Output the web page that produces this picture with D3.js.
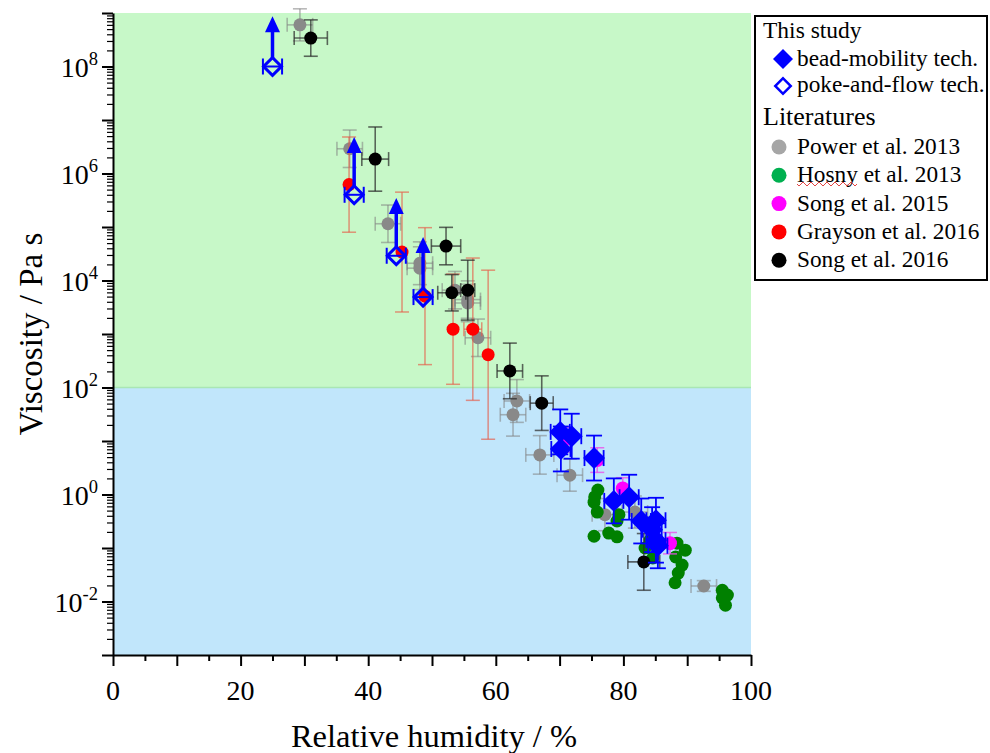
<!DOCTYPE html>
<html>
<head>
<meta charset="utf-8">
<script src="https://cdn.jsdelivr.net/npm/d3@7"></script>
<style>
  body { margin: 0; background: #fff; }
  svg { font-family: "Liberation Serif", "Times New Roman", serif; }
</style>
</head>
<body>
<svg width="990" height="753"></svg>
<script>
// ---- data ----
// Power et al. 2013
var powerRH   = [29.3, 37.1, 43.1, 48.1, 48.1, 53.6, 55.6, 55.6, 57.2, 63.3, 62.7, 66.9, 71.6, 77.1, 81.8, 92.6];
var powerVisc = [6.0e8, 2.9e6, 1.15e5, 2.1e4, 1.7e4, 6.6e3, 4.4e3, 3.8e3, 850, 56, 31, 5.5, 2.3, 0.42, 0.47, 0.0195];
var powerXErr = [2, 2, 2, 2, 2, 2, 2, 2, 2, 2, 2, 2.2, 2, 2, 2, 2];
var powerYErr = [0.3, 0.35, 0.35, 0.4, 0.4, 0.35, 0.35, 0.35, 0.35, 0.4, 0.4, 0.36, 0.3, 0.3, 0.3, 0.1]; // decades

// Hosny et al. 2013
var hosnyRH   = [76.0, 75.5, 75.4, 75.9, 75.4, 77.7, 79.0, 79.3, 79.0, 84.2, 84.6, 83.4, 88.4, 89.7, 88.2, 89.2, 88.6, 88.1, 95.5, 96.3, 95.5, 96.0];
var hosnyVisc = [1.21, 0.9, 0.72, 0.47, 0.166, 0.19, 0.162, 0.42, 0.32, 0.141, 0.065, 0.1, 0.123, 0.091, 0.068, 0.048, 0.034, 0.0224, 0.0162, 0.0132, 0.0117, 0.0085];

// Song et al. 2015
var song15RH   = [70.8, 75.9, 79.9, 87.3];
var song15Visc = [10.5, 4.4, 1.3, 0.123];
var song15YErr = [0.23, 0.23, 0.2, 0.2];

// Grayson et al. 2016
var graysonRH   = [37.0, 45.3, 48.9, 53.3, 56.4, 58.8];
var graysonVisc = [6.2e5, 3.4e4, 5.1e3, 1.23e3, 1.23e3, 410];
var graysonXErr = [0, 0, 0, 0, 1.4, 0];
var graysonYErr = [0.89, 1.12, 1.28, 1.03, 1.33, 1.58];

// Song et al. 2016
var song16RH   = [31.0, 41.1, 52.2, 53.1, 55.6, 62.2, 67.2, 83.2];
var song16Visc = [3.4e8, 1.86e6, 4.4e4, 5.9e3, 6.6e3, 204, 51, 0.055];
var song16XErr = [2.6, 2.1, 2.3, 2.2, 1.1, 2.0, 1.8, 2.5];
var song16YErr = [0.34, 0.6, 0.35, 0.34, 0.56, 0.52, 0.51, 0.53];

// This study: bead-mobility
var beadRH   = [70.1, 71.9, 70.2, 75.4, 78.5, 80.9, 82.8, 85.1, 84.5, 85.1, 85.4];
var beadVisc = [14.8, 12.3, 7.1, 4.8, 0.76, 0.89, 0.32, 0.33, 0.22, 0.14, 0.11];
var beadXErr = 1.5;
var beadYErr = 0.42;

// This study: poke-and-flow (lower limits)
var pokeRH      = [25.0, 37.8, 44.4, 48.6];
var pokeVisc    = [1.0e8, 4.0e5, 2.9e4, 4.9e3];
var pokeArrowTo = [8.7e8, 4.8e6, 3.5e5, 6.5e4];
var pokeXErr    = 1.5;

var xTicksMajor = [0, 10, 20, 30, 40, 50, 60, 70, 80, 90, 100];
var xTickLabels = [0, 20, 40, 60, 80, 100];
var yDecades = [-3, -2, -1, 0, 1, 2, 3, 4, 5, 6, 7, 8, 9];
var yLabelExps = [8, 6, 4, 2, 0, -2];
var glassLimit = 1e2;

var legendItems = [
  {label: "Power et al. 2013",   color: "#a6a6a6"},
  {label: "Hosny et al. 2013",   color: "#00b050"},
  {label: "Song et al. 2015",    color: "#ff00ff"},
  {label: "Grayson et al. 2016", color: "#ff0000"},
  {label: "Song et al. 2016",    color: "#000000"}
];

// ---- layout ----
var svg = d3.select("svg");
var pLeft = 113, pRight = 751, pTop = 13, pBottom = 655;

var x = d3.scaleLinear().domain([0, 100]).range([pLeft, pRight]);
var y = d3.scaleLog().domain([1e-3, 1e9]).range([pBottom, pTop]);

// background regions
svg.append("rect").attr("x", pLeft).attr("y", pTop)
  .attr("width", pRight - pLeft).attr("height", y(glassLimit) - pTop)
  .attr("fill", "#c7f8c8");
svg.append("rect").attr("x", pLeft).attr("y", y(glassLimit))
  .attr("width", pRight - pLeft).attr("height", pBottom - y(glassLimit))
  .attr("fill", "#c1e6fb");
svg.append("line").attr("x1", pLeft).attr("x2", pRight)
  .attr("y1", y(glassLimit)).attr("y2", y(glassLimit))
  .attr("stroke", "#a9e6b4").attr("stroke-width", 1.5);

// ---- axes ----
var xMinor = d3.range(5, 100, 10);
svg.append("g").attr("transform", "translate(0," + pBottom + ")")
  .call(d3.axisBottom(x).tickValues(xTicksMajor).tickSize(11).tickSizeOuter(0).tickFormat(""))
  .call(function(g) { g.select(".domain").attr("stroke-width", 2); g.selectAll("line").attr("stroke-width", 2); });
svg.append("g").attr("transform", "translate(0," + pBottom + ")")
  .call(d3.axisBottom(x).tickValues(xMinor).tickSize(6).tickFormat(""))
  .call(function(g) { g.select(".domain").remove(); g.selectAll("line").attr("stroke-width", 2); });

svg.selectAll(".xlab").data(xTickLabels).enter().append("text")
  .attr("class", "xlab")
  .attr("x", function(d) { return x(d); })
  .attr("y", 700)
  .attr("text-anchor", "middle")
  .attr("font-size", 28)
  .text(function(d) { return d; });

var yMajor = yDecades.map(function(e) { return Math.pow(10, e); });
var yMinor = [];
yDecades.slice(0, -1).forEach(function(e) {
  for (var k = 2; k <= 9; k++) yMinor.push(k * Math.pow(10, e));
});
svg.append("g").attr("transform", "translate(" + pLeft + ",0)")
  .call(d3.axisLeft(y).tickValues(yMajor).tickSize(11).tickSizeOuter(0).tickFormat(""))
  .call(function(g) { g.select(".domain").attr("stroke-width", 2); g.selectAll("line").attr("stroke-width", 2); });
svg.append("g").attr("transform", "translate(" + pLeft + ",0)")
  .call(d3.axisLeft(y).tickValues(yMinor).tickSize(6).tickFormat(""))
  .call(function(g) { g.select(".domain").remove(); g.selectAll("line").attr("stroke-width", 1.2); });

var ylab = svg.selectAll(".ylab").data(yLabelExps).enter().append("text")
  .attr("class", "ylab")
  .attr("x", 98)
  .attr("y", function(d) { return y(Math.pow(10, d)) + 10; })
  .attr("text-anchor", "end")
  .attr("font-size", 28);
ylab.append("tspan").text("10");
ylab.append("tspan").attr("dy", -12).attr("font-size", 18.5)
  .text(function(d) { return d; });

svg.append("text")
  .attr("transform", "translate(42," + ((pTop + pBottom) / 2) + ") rotate(-90)")
  .attr("text-anchor", "middle")
  .attr("font-size", 33)
  .text("Viscosity / Pa s");
svg.append("text")
  .attr("x", (pLeft + pRight) / 2 + 2).attr("y", 747)
  .attr("text-anchor", "middle")
  .attr("font-size", 32.5)
  .text("Relative humidity / %");

// ---- helpers ----
function toRows(rh, v, xe, ye) {
  return rh.map(function(r, i) {
    return {rh: r, v: v[i],
      xe: Array.isArray(xe) ? xe[i] : (xe || 0),
      ye: Array.isArray(ye) ? ye[i] : (ye || 0)};
  });
}

function errorBars(rows, color, width, cap) {
  var g = svg.append("g").attr("stroke", color).attr("stroke-width", width).attr("fill", "none");
  rows.forEach(function(d) {
    var cx = x(d.rh), cy = y(d.v);
    if (d.ye > 0) {
      var y1 = y(d.v * Math.pow(10, d.ye)), y2 = y(d.v / Math.pow(10, d.ye));
      g.append("line").attr("x1", cx).attr("x2", cx).attr("y1", y1).attr("y2", y2);
      g.append("line").attr("x1", cx - cap).attr("x2", cx + cap).attr("y1", y1).attr("y2", y1);
      g.append("line").attr("x1", cx - cap).attr("x2", cx + cap).attr("y1", y2).attr("y2", y2);
    }
    if (d.xe > 0) {
      var x1 = x(d.rh - d.xe), x2 = x(d.rh + d.xe);
      g.append("line").attr("x1", x1).attr("x2", x2).attr("y1", cy).attr("y2", cy);
      g.append("line").attr("x1", x1).attr("x2", x1).attr("y1", cy - cap).attr("y2", cy + cap);
      g.append("line").attr("x1", x2).attr("x2", x2).attr("y1", cy - cap).attr("y2", cy + cap);
    }
  });
}

function dots(rows, color, r) {
  svg.append("g").selectAll("circle").data(rows).enter().append("circle")
    .attr("cx", function(d) { return x(d.rh); })
    .attr("cy", function(d) { return y(d.v); })
    .attr("r", r)
    .attr("fill", color);
}

var diamond = d3.symbol().type(d3.symbolSquare);

// ---- literature data ----
var power = toRows(powerRH, powerVisc, powerXErr, powerYErr);
errorBars(power, "rgba(128,128,128,0.55)", 1.6, 7);
dots(power, "#898989", 6.5);

var hosny = toRows(hosnyRH, hosnyVisc, 0, 0);
dots(hosny, "#008000", 6.5);

var song15 = toRows(song15RH, song15Visc, 0, song15YErr);
errorBars(song15, "rgba(235,80,235,0.8)", 1.5, 7);
dots(song15, "#ff00ff", 7);

var grayson = toRows(graysonRH, graysonVisc, graysonXErr, graysonYErr);
errorBars(grayson, "rgba(230,90,70,0.65)", 1.5, 7);
dots(grayson, "#ff0000", 6.5);

var song16 = toRows(song16RH, song16Visc, song16XErr, song16YErr);
errorBars(song16, "rgba(40,40,40,0.7)", 1.6, 7);
dots(song16, "#000000", 6.5);

// ---- this study ----
var bead = toRows(beadRH, beadVisc, beadXErr, beadYErr);
errorBars(bead, "#0000ff", 1.8, 8);
svg.append("g").selectAll("path").data(bead).enter().append("path")
  .attr("d", diamond.size(240))
  .attr("transform", function(d) { return "translate(" + x(d.rh) + "," + y(d.v) + ") rotate(45)"; })
  .attr("fill", "#0000ff");

var poke = toRows(pokeRH, pokeVisc, pokeXErr, 0);
errorBars(poke, "#0000ff", 2, 8);
var arrows = svg.append("g");
poke.forEach(function(d, i) {
  var cx = x(d.rh), tipY = y(pokeArrowTo[i]);
  arrows.append("line").attr("x1", cx).attr("x2", cx)
    .attr("y1", y(d.v) - 8).attr("y2", tipY + 12)
    .attr("stroke", "#0000ff").attr("stroke-width", 3.5);
  arrows.append("path")
    .attr("d", "M" + cx + "," + tipY + " L" + (cx - 7.5) + "," + (tipY + 16) + " L" + (cx + 7.5) + "," + (tipY + 16) + " Z")
    .attr("fill", "#0000ff");
});
svg.append("g").selectAll("path").data(poke).enter().append("path")
  .attr("d", diamond.size(160))
  .attr("transform", function(d) { return "translate(" + x(d.rh) + "," + y(d.v) + ") rotate(45)"; })
  .attr("fill", "none").attr("stroke", "#0000ff").attr("stroke-width", 3);

// ---- legend ----
var lg = svg.append("g");
lg.append("rect").attr("x", 755).attr("y", 16).attr("width", 232).attr("height", 264)
  .attr("fill", "#fff").attr("stroke", "#000").attr("stroke-width", 2);
lg.append("text").attr("x", 763).attr("y", 38).attr("font-size", 23.5).text("This study");
lg.append("path").attr("d", diamond.size(200))
  .attr("transform", "translate(783,59) rotate(45)").attr("fill", "#0000ff");
lg.append("text").attr("x", 797).attr("y", 66).attr("font-size", 23.3).text("bead-mobility tech.");
lg.append("path").attr("d", diamond.size(120))
  .attr("transform", "translate(783,86) rotate(45)")
  .attr("fill", "none").attr("stroke", "#0000ff").attr("stroke-width", 2.5);
lg.append("text").attr("x", 797).attr("y", 92).attr("font-size", 23.3).text("poke-and-flow tech.");
lg.append("text").attr("x", 763).attr("y", 125).attr("font-size", 26).text("Literatures");

var rows = lg.selectAll(".lrow").data(legendItems).enter().append("g").attr("class", "lrow")
  .attr("transform", function(d, i) { return "translate(0," + (147 + i * 28.3) + ")"; });
rows.append("circle").attr("cx", 779).attr("cy", 0).attr("r", 7.5)
  .attr("fill", function(d) { return d.color; });
rows.append("text").attr("x", 797).attr("y", 7).attr("font-size", 23.3)
  .text(function(d) { return d.label; });

// spell-check squiggle under "Hosny"
var sq = "M797,184";
for (var i = 0; i < 15; i++) sq += " l2," + (i % 2 ? -2 : 2) + " l2," + (i % 2 ? 2 : -2);
lg.append("path").attr("d", sq).attr("fill", "none").attr("stroke", "#e03030").attr("stroke-width", 0.9);
</script>
</body>
</html>
